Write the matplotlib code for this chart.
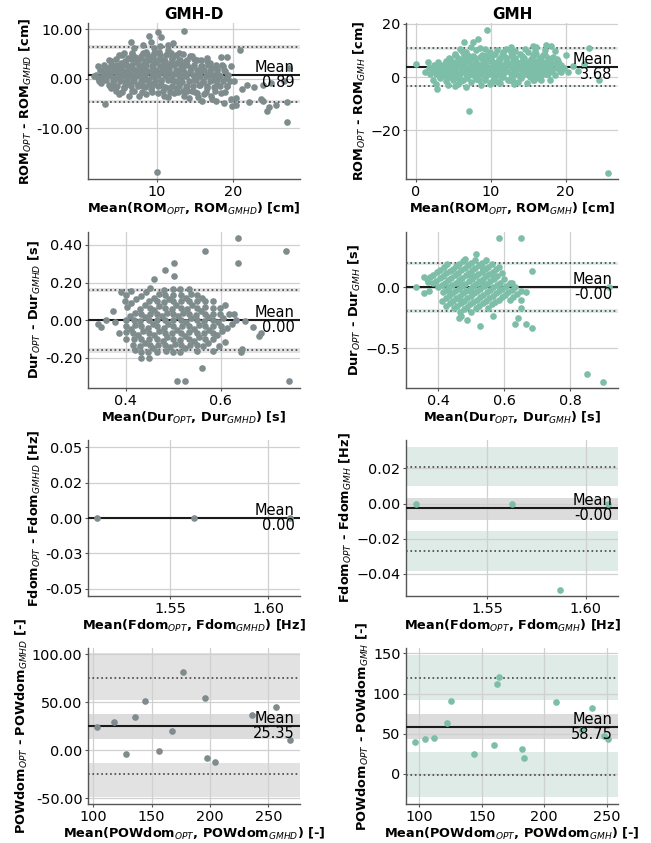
import numpy as np
import matplotlib
matplotlib.use('Agg')
import matplotlib.pyplot as plt
from matplotlib.ticker import FormatStrFormatter, FixedFormatter

# ---------------- data ----------------
col_titles = ['GMH-D', 'GMH']

rom_gmhd_points = [
    (2.26, 2.52), (1.83, 0.53), (2.26, 0.2), (2.70, -0.79), (2.91, 1.52), (3.22, -4.97), (3.57, 0.86),
    (3.57, 2.19), (3.78, -1.13), (4.0, 3.64), (4.22, 0.2), (4.43, 2.19), (4.43, -0.13), (4.65, -2.45),
    (4.87, 1.52), (5.09, 4.83), (5.09, -3.11), (5.30, 3.18), (5.30, 0.53), (4.0, -1.79), (4.43, -1.46),
    (3.22, 1.85), (2.91, -0.13), (5.09, 2.52), (4.65, 2.85), (3.0, 1.0), (3.9, 1.3), (4.8, 0.3),
    (6.61, 7.48), (5.74, 5.17), (6.17, 4.17), (7.04, 6.16), (5.52, 1.52), (6.39, 2.19), (7.26, 3.51),
    (5.96, 0.2), (6.83, -0.46), (7.48, -1.46), (5.74, -1.79), (7.04, -2.45), (6.39, -3.44), (6.0, 3.0),
    (6.5, 1.0), (7.0, 1.8), (5.6, 2.8), (7.3, 0.5), (6.2, -1.0), (7.2, 4.5), (5.8, -0.6), (6.7, 5.2),
    (8.91, 8.68), (8.13, 6.82), (9.22, 7.48), (8.57, 5.5), (9.65, 6.16), (7.91, 4.17), (9.0, 3.84),
    (9.87, 3.51), (8.35, 2.19), (9.43, 1.52), (7.91, 0.53), (8.78, -0.13), (9.65, -0.79), (8.13, -1.46),
    (9.22, -2.12), (10.09, -2.78), (8.57, -3.11), (8.0, 2.9), (8.5, 1.2), (9.3, 2.7), (9.8, 0.5),
    (8.3, -0.3), (9.5, 4.7), (8.8, 4.5), (9.0, -1.0), (7.7, 1.8), (8.2, 5.3), (9.9, 1.6),
    (10.09, 9.47), (10.52, 8.48), (11.39, 6.82), (12.17, 7.35), (10.3, 5.5), (11.17, 4.83), (12.04, 4.17),
    (10.74, 2.85), (11.61, 2.19), (10.3, 1.19), (11.17, 0.53), (12.04, -0.13), (10.52, -1.13),
    (11.61, -1.79), (12.26, -2.78), (10.96, -3.44), (10.8, 3.8), (11.0, 1.8), (11.8, 3.2), (10.5, -0.2),
    (11.5, 5.8), (12.2, 1.0), (10.4, 6.6), (11.9, 5.3),
    (13.57, 9.6), (12.91, 5.17), (14.0, 3.84), (13.35, 2.85), (14.43, 2.19), (12.7, 1.52), (13.78, 0.53),
    (14.87, -0.13), (12.91, -0.79), (14.0, -1.46), (14.65, -2.45), (13.35, -2.45), (12.48, -1.79),
    (14.22, -3.77), (13.0, 3.8), (13.5, 1.2), (14.3, 4.6), (12.6, 3.3), (13.2, 0.0),
    (15.3, 3.84), (16.61, 4.17), (15.96, 2.52), (17.26, 2.19), (15.09, 0.86), (16.39, 0.53), (17.48, -0.13),
    (15.52, -1.13), (16.61, -1.79), (15.96, -4.44), (17.26, -4.11), (16.17, -3.11), (15.3, -2.78),
    (15.8, 1.7), (16.9, 0.9), (16.0, -0.6), (17.0, 3.2),
    (18.35, 4.5), (19.22, 4.5), (18.57, 2.85), (19.65, 2.52), (18.13, 0.86), (19.0, 0.2), (20.09, -0.46),
    (17.91, -1.13), (19.22, -1.46), (18.35, -2.78), (19.65, -4.11), (18.78, -4.77), (17.7, -4.44),
    (18.9, 1.7), (19.5, -0.5), (17.9, 2.0),
    (20.87, 5.8), (22.7, -1.66), (21.83, -1.13), (21.17, -2.12), (20.39, -3.77), (19.87, -5.43),
    (20.3, -5.23), (22.04, -4.57), (23.57, -4.11), (23.87, -1.26), (24.87, -0.79), (25.52, -5.23),
    (26.96, -4.57), (27.26, 2.19), (26.6, -0.46), (24.43, -6.42), (23.91, -4.44), (24.65, -5.63),
    (27.04, -8.74), (10.0, -18.74),
    # dense core
    (5.4, 4.9), (6.8, 5.1), (7.9, 4.7), (8.7, 5.0), (9.6, 5.2), (10.4, 4.8), (11.3, 5.0), (12.5, 4.9),
    (13.4, 5.1), (14.6, 4.6),
    (3.8, 3.8), (4.7, 4.0), (5.8, 3.7), (6.6, 4.1), (7.5, 3.9), (8.4, 3.7), (9.3, 4.0), (10.2, 3.9),
    (11.1, 3.6), (12.0, 4.0), (12.9, 3.9), (13.8, 3.7), (14.8, 4.0), (15.7, 3.8), (16.5, 3.6),
    (3.1, 2.8), (4.0, 2.9), (4.9, 2.7), (5.9, 2.9), (6.8, 2.8), (7.7, 2.6), (8.6, 2.9), (9.5, 2.8),
    (10.4, 2.7), (11.3, 2.9), (12.2, 2.8), (13.1, 2.6), (14.0, 2.9), (14.9, 2.8), (15.8, 2.7),
    (16.7, 2.9), (17.7, 2.8), (18.6, 2.6),
    (2.6, 1.8), (3.5, 1.7), (4.4, 1.9), (5.3, 1.8), (6.2, 1.6), (7.1, 1.9), (8.0, 1.8), (8.9, 1.7),
    (9.8, 1.9), (10.7, 1.8), (11.6, 1.6), (12.5, 1.9), (13.4, 1.8), (14.3, 1.7), (15.2, 1.9),
    (16.1, 1.8), (17.0, 1.6), (17.9, 1.8), (18.8, 1.9),
    (2.0, 0.7), (3.0, 0.6), (3.9, 0.8), (4.8, 0.7), (5.7, 0.9), (6.6, 0.6), (7.5, 0.7), (8.4, 0.8),
    (9.3, 0.6), (10.2, 0.7), (11.1, 0.9), (12.0, 0.7), (12.9, 0.6), (13.8, 0.8), (14.7, 0.7),
    (15.6, 0.6), (16.5, 0.8), (17.4, 0.7), (18.3, 0.6), (19.3, 0.8),
    (2.5, -0.4), (3.4, -0.3), (4.3, -0.5), (5.2, -0.4), (6.1, -0.2), (7.0, -0.4), (7.9, -0.5),
    (8.8, -0.3), (9.7, -0.4), (10.6, -0.5), (11.5, -0.3), (12.4, -0.4), (13.3, -0.6), (14.2, -0.4),
    (15.1, -0.3), (16.0, -0.5), (16.9, -0.4), (17.8, -0.3), (18.7, -0.5),
    (3.9, -1.5), (4.8, -1.4), (5.7, -1.6), (6.6, -1.5), (7.5, -1.3), (8.4, -1.6), (9.3, -1.5),
    (10.2, -1.4), (11.1, -1.6), (12.0, -1.5), (12.9, -1.4), (13.8, -1.6), (14.7, -1.5), (15.6, -1.3),
    (16.5, -1.5), (17.4, -1.6), (18.3, -1.4), (19.2, -1.5),
    (5.5, -2.6), (6.7, -2.5), (8.0, -2.7), (9.4, -2.6), (10.8, -2.4), (11.7, -2.7), (12.8, -2.6),
    (13.9, -2.5), (15.0, -2.7), (16.4, -2.6), (17.6, -2.4), (18.9, -2.7),
    (7.6, -3.5), (11.4, -3.6), (13.6, -3.4), (15.4, -3.6), (17.1, -3.5),
]

rom_gmh_points = [
    (9.56, 17.75), (8.31, 14.4), (7.64, 13.1), (6.44, 13.1), (7.11, -12.75), (25.69, -35.9), (0.0, 5.0),
    (2.89, -4.6), (5.2, -3.4), (23.07, 11.0), (24.53, -1.0), (17.42, 11.9), (18.09, 11.5), (15.64, 11.5),
    (16.09, 11.25), (12.67, 11.25), (20.0, 8.25), (20.31, 1.9), (18.98, 5.6), (17.87, -1.25),
    (16.76, -1.25), (14.89, -2.25), (21.0, 4.0), (22.5, 5.0), (21.6, 2.4),
    (1.64, 5.6), (1.2, 1.9), (1.87, 1.25), (2.53, 2.5), (2.98, 4.4), (3.2, 0.0), (2.31, -1.25),
    (2.76, -2.5), (3.42, 1.25), (2.0, 3.5), (3.0, 3.0),
    (3.87, 5.0), (4.53, 6.9), (5.2, 8.75), (3.64, 2.5), (4.76, 3.1), (5.42, 1.25), (4.09, 0.0),
    (4.98, -1.25), (5.64, -2.5), (4.31, -3.1), (5.42, 4.4), (4.0, 1.5), (5.0, 2.2), (5.6, 6.0),
    (5.87, 10.6), (6.76, 9.4), (7.42, 11.25), (6.09, 6.25), (7.2, 6.9), (6.31, 3.75), (7.64, 4.4),
    (5.87, 1.25), (6.98, 0.6), (7.87, 1.9), (6.31, -1.25), (7.42, -1.9), (6.76, -3.75), (6.5, 2.3),
    (7.1, 8.0), (7.8, 7.5),
    (8.09, 10.0), (9.2, 10.6), (9.87, 9.4), (8.53, 7.5), (9.64, 6.9), (8.09, 5.0), (9.2, 4.4),
    (10.09, 3.75), (8.53, 1.9), (9.64, 1.25), (8.09, -0.6), (9.2, -1.25), (10.09, -1.9), (8.76, -3.1),
    (8.8, 3.0), (9.5, 8.2),
    (10.53, 8.75), (11.64, 9.4), (11.2, 6.9), (10.31, 5.6), (12.09, 5.0), (10.76, 3.1), (11.87, 2.5),
    (10.31, 0.6), (11.42, 0.0), (12.31, -1.25), (10.98, -1.9), (11.0, 4.5), (11.8, 7.8),
    (12.76, 9.4), (13.87, 8.75), (13.2, 6.9), (14.31, 6.25), (12.53, 4.4), (13.64, 3.75), (14.53, 2.5),
    (12.98, 1.25), (14.09, 0.0), (12.53, -1.25), (13.64, -1.9), (13.5, 5.2), (12.9, 8.0),
    (14.98, 9.4), (16.09, 8.75), (15.42, 6.9), (16.53, 6.25), (14.76, 4.4), (15.87, 3.75), (16.76, 2.5),
    (15.2, 1.25), (16.31, 0.6), (15.64, -1.25), (15.5, 5.2),
    (17.2, 8.1), (18.31, 7.5), (17.64, 5.6), (18.76, 5.0), (16.98, 3.75), (18.09, 2.5), (19.2, 3.1),
    (17.42, 1.25), (18.53, 0.6), (19.42, 1.9), (17.9, 4.2),
    (6.2, 9.8), (8.6, 10.9), (10.8, 10.2), (12.1, 10.7), (13.3, 9.9), (14.6, 10.4), (15.9, 9.9),
    (17.3, 10.3), (18.6, 9.6), (11.3, -2.4), (13.1, -2.6), (9.9, -2.8),
    # dense core
    (5.2, 8.2), (6.5, 8.4), (7.7, 8.0), (8.9, 8.3), (10.2, 8.1), (11.5, 8.4), (12.8, 8.2), (14.2, 8.0),
    (15.6, 8.3), (17.0, 8.1),
    (4.5, 7.0), (5.6, 7.2), (6.7, 6.9), (7.8, 7.1), (8.9, 7.0), (10.0, 7.2), (11.1, 6.8), (12.2, 7.1),
    (13.3, 7.0), (14.4, 7.2), (15.5, 6.9), (16.6, 7.1), (17.7, 7.0), (18.8, 6.8),
    (3.0, 5.8), (4.0, 5.9), (5.0, 5.7), (6.0, 5.8), (7.0, 6.0), (8.0, 5.7), (9.0, 5.8), (10.0, 5.9),
    (11.0, 5.7), (12.0, 5.8), (13.0, 6.0), (14.0, 5.7), (15.0, 5.8), (16.0, 5.9), (17.0, 5.7),
    (18.0, 5.8), (19.0, 6.0),
    (2.4, 4.6), (3.4, 4.7), (4.4, 4.5), (5.4, 4.6), (6.4, 4.8), (7.4, 4.5), (8.4, 4.6), (9.4, 4.7),
    (10.4, 4.5), (11.4, 4.6), (12.4, 4.8), (13.4, 4.5), (14.4, 4.6), (15.4, 4.7), (16.4, 4.5),
    (17.4, 4.6), (18.4, 4.8), (19.4, 4.5),
    (1.8, 3.4), (2.8, 3.5), (3.8, 3.3), (4.8, 3.4), (5.8, 3.6), (6.8, 3.3), (7.8, 3.4), (8.8, 3.5),
    (9.8, 3.3), (10.8, 3.4), (11.8, 3.6), (12.8, 3.3), (13.8, 3.4), (14.8, 3.5), (15.8, 3.3),
    (16.8, 3.4), (17.8, 3.6), (18.8, 3.3), (19.8, 3.4),
    (2.2, 2.2), (3.2, 2.3), (4.2, 2.1), (5.2, 2.2), (6.2, 2.4), (7.2, 2.1), (8.2, 2.2), (9.2, 2.3),
    (10.2, 2.1), (11.2, 2.2), (12.2, 2.4), (13.2, 2.1), (14.2, 2.2), (15.2, 2.3), (16.2, 2.1),
    (17.2, 2.2), (18.2, 2.4), (19.2, 2.1),
    (2.7, 1.0), (3.7, 1.1), (4.7, 0.9), (5.7, 1.0), (6.7, 1.2), (7.7, 0.9), (8.7, 1.0), (9.7, 1.1),
    (10.7, 0.9), (11.7, 1.0), (12.7, 1.2), (13.7, 0.9), (14.7, 1.0), (15.7, 1.1), (16.7, 0.9),
    (17.7, 1.0),
    (3.3, -0.2), (4.5, -0.1), (5.7, -0.3), (6.9, -0.2), (8.1, 0.0), (9.3, -0.3), (10.5, -0.2),
    (11.7, -0.1), (12.9, -0.3), (14.1, -0.2), (15.3, 0.0), (16.5, -0.3),
    (4.0, -1.3), (6.0, -1.4), (8.4, -1.2), (10.6, -1.3), (13.0, -1.4), (15.8, -1.2),
]

# Durations: for each reference-system duration (s), observed differences OPT - reference (s).
# Points sharing one reference duration fall on a diagonal streak.
dur_gmhd_streaks = {
    0.333: [0.135, 0.155],
    0.367: [0.07, 0.09, 0.11, 0.13, 0.15, 0.17],
    0.400: [0.0, 0.02, 0.04, 0.06, 0.08, 0.10, 0.12, 0.14, 0.16],
    0.417: [-0.033, 0.0, 0.033, 0.067, 0.1, 0.133, 0.167],
    0.433: [-0.065, -0.045, -0.025, -0.005, 0.015, 0.035, 0.055, 0.075, 0.095, 0.115, 0.135, 0.165],
    0.450: [-0.1, -0.067, -0.033, 0.0, 0.033, 0.067, 0.1, 0.133, 0.167],
    0.467: [-0.10, -0.08, -0.06, -0.04, -0.02, 0.0, 0.02, 0.04, 0.06, 0.08, 0.10, 0.12, 0.14],
    0.483: [-0.133, -0.1, -0.067, -0.033, 0.0, 0.033, 0.067, 0.1, 0.133],
    0.500: [-0.16, -0.14, -0.12, -0.10, -0.08, -0.06, -0.04, -0.02, 0.0, 0.02, 0.04, 0.06, 0.08,
            0.10, 0.12],
    0.517: [-0.167, -0.133, -0.1, -0.067, -0.033, 0.0, 0.033, 0.067, 0.1],
    0.533: [-0.17, -0.15, -0.13, -0.11, -0.09, -0.07, -0.05, -0.03, -0.01, 0.01, 0.03, 0.05, 0.07, 0.10],
    0.550: [-0.167, -0.133, -0.1, -0.067, -0.033, 0.0, 0.033, 0.067],
    0.567: [-0.165, -0.145, -0.125, -0.105, -0.085, -0.065, -0.045, -0.025, -0.005, 0.015, 0.035, 0.065],
    0.583: [-0.167, -0.133, -0.1, -0.067, -0.033, 0.0, 0.033],
    0.600: [-0.17, -0.15, -0.13, -0.11, -0.09, -0.07, -0.05, -0.03, -0.01, 0.01, 0.035],
    0.617: [-0.133, -0.1, -0.067, -0.033],
    0.633: [-0.165, -0.14, -0.12, -0.10, -0.08, -0.06, -0.04, -0.02, 0.0],
    0.667: [-0.165, -0.14, -0.115],
}
dur_gmhd_extra = [
    (0.636, 0.436), (0.567, 0.37), (0.636, 0.302), (0.737, 0.37), (0.501, 0.302), (0.484, 0.267),
    (0.501, 0.235), (0.459, 0.217), (0.373, 0.048), (0.342, -0.018), (0.349, -0.039), (0.433, -0.204),
    (0.45, -0.204), (0.508, -0.324), (0.526, -0.324), (0.56, -0.254), (0.744, -0.324), (0.669, -0.036),
    (0.681, -0.085), (0.686, -0.071), (0.652, -0.004), (0.609, 0.08), (0.644, -0.155), (0.391, 0.151),
    (0.399, 0.101), (0.359, 0.0), (0.377, -0.01), (0.387, -0.067), (0.643, -0.167), (0.629, 0.033),
]

dur_gmh_streaks = {
    0.333: [0.065, 0.085, 0.105, 0.125, 0.145, 0.17, 0.19],
    0.367: [0.035, 0.055, 0.075, 0.095, 0.115, 0.135, 0.155, 0.175, 0.195, 0.215, 0.23],
    0.400: [0.0, 0.02, 0.04, 0.06, 0.08, 0.10, 0.12, 0.14, 0.16, 0.18, 0.20, 0.225],
    0.433: [-0.04, -0.02, 0.0, 0.02, 0.04, 0.06, 0.08, 0.10, 0.12, 0.14, 0.16, 0.18, 0.20, 0.225],
    0.450: [-0.033, 0.033, 0.1, 0.167],
    0.467: [-0.11, -0.09, -0.07, -0.05, -0.03, -0.01, 0.01, 0.03, 0.05, 0.07, 0.09, 0.11, 0.13, 0.15,
            0.17, 0.19],
    0.500: [-0.15, -0.13, -0.11, -0.09, -0.07, -0.05, -0.03, -0.01, 0.01, 0.03, 0.05, 0.07, 0.09, 0.11,
            0.13, 0.15, 0.17],
    0.517: [-0.1, -0.033, 0.033, 0.1],
    0.533: [-0.17, -0.15, -0.13, -0.11, -0.09, -0.07, -0.05, -0.03, -0.01, 0.01, 0.03, 0.05, 0.07,
            0.09, 0.12],
    0.567: [-0.20, -0.18, -0.16, -0.14, -0.12, -0.10, -0.08, -0.06, -0.04, -0.02, 0.0, 0.02, 0.04, 0.065],
    0.600: [-0.20, -0.17, -0.15, -0.13, -0.11, -0.09, -0.07, -0.05, -0.03, -0.01, 0.01, 0.035],
    0.633: [-0.165, -0.14, -0.12, -0.10, -0.08, -0.06, -0.04, -0.02, 0.0],
    0.667: [-0.10, -0.08, -0.055, -0.03],
}
dur_gmh_extra = [
    (0.585, 0.406), (0.651, 0.406), (0.684, 0.138), (0.516, 0.273), (0.851, -0.707), (0.901, -0.773),
    (0.684, -0.334), (0.667, -0.304), (0.633, -0.304), (0.642, -0.249), (0.526, -0.32), (0.486, -0.271),
    (0.462, -0.249), (0.469, -0.238), (0.567, -0.235), (0.358, 0.088), (0.368, 0.047), (0.358, -0.05),
    (0.373, -0.028), (0.332, 0.0), (0.918, 0.005), (0.651, -0.166), (0.668, -0.036), (0.625, 0.033),
    (0.651, -0.1),
]

fdom_gmhd_x = [1.5130, 1.5623, 1.6109]
fdom_gmhd_y = [0.0, 0.0, 0.0]
fdom_gmh_x = [1.5136, 1.5626, 1.5869, 1.6115]
fdom_gmh_y = [0.0, 0.0, -0.0489, 0.0]

pow_gmhd_x = [103.4, 117.7, 127.8, 135.7, 144.3, 156.3, 167.4, 176.5, 196.0, 197.2, 204.3, 235.8, 256.6, 268.6]
pow_gmhd_y = [23.7, 29.9, -4.4, 35.1, 51.2, -1.3, 19.6, 81.4, 54.0, -7.9, -12.4, 36.8, 45.4, 10.3]
pow_gmh_x = [96.6, 104.5, 111.5, 122.4, 125.4, 144.1, 160.1, 162.0, 163.6, 182.5, 183.6, 209.3, 230.4,
             238.1, 248.2, 251.4]
pow_gmh_y = [40.2, 43.5, 45.2, 63.8, 90.8, 24.9, 36.1, 111.6, 120.3, 31.1, 20.3, 89.6, 54.7, 82.5, 46.6, 44.1]

# statistics shown on the chart: mean difference, limits of agreement, confidence bands
mean_diff = [[0.89, 3.68], [0.00, -0.00], [0.00, -0.0028], [25.35, 58.75]]
mean_text = [['0.89', '3.68'], ['0.00', '-0.00'], ['0.00', '-0.00'], ['25.35', '58.75']]
loa = [[(-4.60, 6.42), (-3.40, 10.78)],
       [(-0.161, 0.161), (-0.193, 0.197)],
       [(0.0, 0.0), (-0.0269, 0.0209)],
       [(-24.6, 74.8), (-1.25, 118.9)]]
mean_ci = [[(0.70, 1.08), (3.42, 3.94)],
           [(-0.007, 0.007), (-0.009, 0.009)],
           [None, (-0.0091, 0.0034)],
           [(11.7, 37.8), (43.2, 74.6)]]
lo_ci = [[(-4.95, -4.25), (-3.90, -2.90)],
         [(-0.173, -0.149), (-0.208, -0.178)],
         [None, (-0.0383, -0.0157)],
         [(-49.0, -13.0), (-29.0, 27.7)]]
hi_ci = [[(6.07, 6.77), (10.28, 11.28)],
         [(0.149, 0.173), (0.182, 0.212)],
         [None, (0.0098, 0.0322)],
         [(52.0, 101.5), (91.7, 147.3)]]

quantities = ['ROM', 'Dur', 'Fdom', 'POWdom']
units = ['cm', 's', 'Hz', '-']
refs = ['GMHD', 'GMH']

xlims = [[(1.0, 28.7), (-1.3, 27.0)], [(0.321, 0.767), (0.302, 0.946)],
         [(1.5083, 1.6161), (1.5086, 1.6164)], [(95.5, 277.2), (89.3, 259.1)]]
ylims = [[(-20.2, 11.3), (-38.3, 20.3)], [(-0.361, 0.469), (-0.826, 0.455)],
         [(-0.055, 0.055), (-0.0525, 0.0361)], [(-56.0, 106.5), (-37.3, 156.6)]]
xticks = [[[10, 20], [0, 10, 20]], [[0.4, 0.6], [0.4, 0.6, 0.8]],
          [[1.55, 1.60], [1.55, 1.60]], [[100, 150, 200, 250], [100, 150, 200, 250]]]
yticks = [[[-10, 0, 10], [-20, 0, 20]], [[-0.2, 0, 0.2, 0.4], [-0.5, 0.0]],
          [[-0.05, -0.025, 0, 0.025, 0.05], [-0.04, -0.02, 0.0, 0.02]],
          [[-50, 0, 50, 100], [0, 50, 100, 150]]]
fdom_gmhd_ylabels = ['-0.05', '-0.03', '0.00', '0.02', '0.05']


def streaks_to_xy(streaks, extra):
    # Bland-Altman: x = mean of both methods, y = OPT - reference
    xs, ys = [], []
    for ref_val, diffs in streaks.items():
        for d in diffs:
            xs.append(ref_val + d / 2.0)
            ys.append(d)
    for m, d in extra:
        xs.append(m)
        ys.append(d)
    return xs, ys


dur_gmhd_x, dur_gmhd_y = streaks_to_xy(dur_gmhd_streaks, dur_gmhd_extra)
dur_gmh_x, dur_gmh_y = streaks_to_xy(dur_gmh_streaks, dur_gmh_extra)
rom_gmhd_x = [p[0] for p in rom_gmhd_points]
rom_gmhd_y = [p[1] for p in rom_gmhd_points]
rom_gmh_x = [p[0] for p in rom_gmh_points]
rom_gmh_y = [p[1] for p in rom_gmh_points]

points = [[(rom_gmhd_x, rom_gmhd_y), (rom_gmh_x, rom_gmh_y)],
          [(dur_gmhd_x, dur_gmhd_y), (dur_gmh_x, dur_gmh_y)],
          [(fdom_gmhd_x, fdom_gmhd_y), (fdom_gmh_x, fdom_gmh_y)],
          [(pow_gmhd_x, pow_gmhd_y), (pow_gmh_x, pow_gmh_y)]]

# ---------------- styling ----------------
point_colors = ['#7f8c8d', '#7dbea8']
loa_band_colors = ['#e2e2e2', '#deebe6']
mean_band_color = '#dcdcdc'

fig = plt.figure(figsize=(6.51, 8.43), dpi=100)
W, H = 651.0, 843.0
col_left = [88, 406]
ax_w = 212
row_top = [23, 232, 440, 648]
ax_h = 156

for r in range(4):
    for c in range(2):
        ax = fig.add_axes([col_left[c] / W, 1 - (row_top[r] + ax_h) / H, ax_w / W, ax_h / H])
        xs, ys = points[r][c]
        ax.set_xlim(*xlims[r][c])
        ax.set_ylim(*ylims[r][c])
        ax.grid(True, color='#d0d0d0', linewidth=0.9, zorder=0.5)
        ax.set_axisbelow(True)
        for s in ['top', 'right']:
            ax.spines[s].set_visible(False)
        for s in ['left', 'bottom']:
            ax.spines[s].set_color('#555555')
            ax.spines[s].set_linewidth(1.0)
        ax.tick_params(axis='both', labelsize=10.4, length=2.5, color='#555555')
        ax.tick_params(axis='y', pad=1.5)
        ax.tick_params(axis='x', pad=2)

        # confidence bands
        if hi_ci[r][c] is not None:
            ax.axhspan(*hi_ci[r][c], color=loa_band_colors[c], zorder=0.2, lw=0)
            ax.axhspan(*lo_ci[r][c], color=loa_band_colors[c], zorder=0.2, lw=0)
            ax.axhspan(*mean_ci[r][c], color=mean_band_color, zorder=0.2, lw=0)

        ax.scatter(xs, ys, s=23, color=point_colors[c], linewidths=0, zorder=3)
        ax.axhline(mean_diff[r][c], color='#1a1a1a', lw=1.5, zorder=2.6)
        ax.axhline(loa[r][c][0], color='#444444', lw=1.2, ls=':', zorder=2.5)
        ax.axhline(loa[r][c][1], color='#444444', lw=1.2, ls=':', zorder=2.5)

        tr = ax.get_yaxis_transform()
        ax.text(0.975, mean_diff[r][c], 'Mean', transform=tr, ha='right', va='bottom',
                fontsize=10.5, zorder=4)
        ax.text(0.975, mean_diff[r][c], mean_text[r][c], transform=tr, ha='right', va='top',
                fontsize=10.5, zorder=4)

        ax.set_xticks(xticks[r][c])
        ax.set_yticks(yticks[r][c])
        if c == 0:
            if r == 2:
                ax.yaxis.set_major_formatter(FixedFormatter(fdom_gmhd_ylabels))
            else:
                ax.yaxis.set_major_formatter(FormatStrFormatter('%.2f'))

        q, u, ref = quantities[r], units[r], refs[c]
        ax.set_ylabel(f'{q}$_{{OPT}}$ - {q}$_{{{ref}}}$ [{u}]', fontsize=9.3, fontweight='bold',
                      labelpad=1.5)
        ax.set_xlabel(f'Mean({q}$_{{OPT}}$, {q}$_{{{ref}}}$) [{u}]', fontsize=9.3, fontweight='bold',
                      labelpad=1)
        if r == 0:
            ax.set_title(col_titles[c], fontsize=11, fontweight='bold', pad=3)

fig.savefig('out.png', dpi=100)
